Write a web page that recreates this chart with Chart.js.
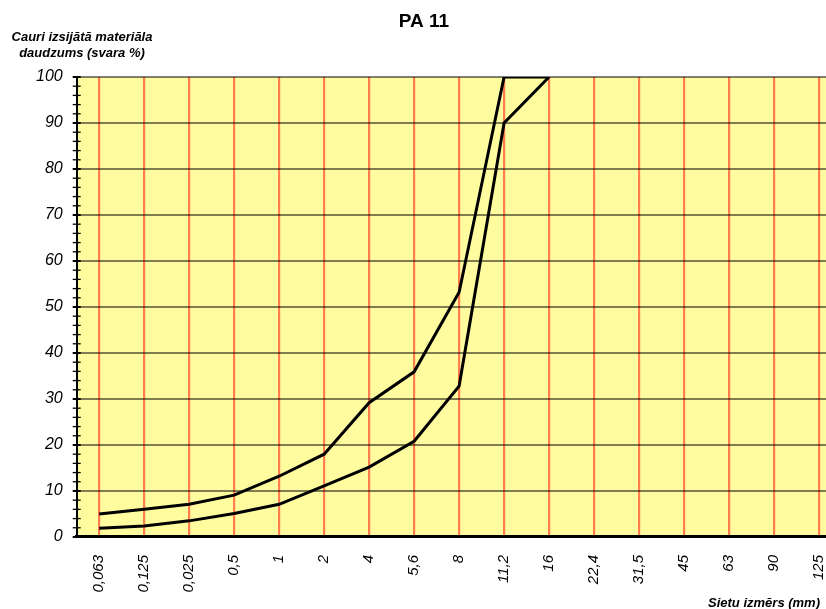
<!DOCTYPE html>
<html lang="lv">
<head>
  <meta charset="UTF-8">
  <title>PA 11</title>
  <style>
    html, body { margin: 0; padding: 0; background: #fff; overflow: hidden; }
    #wrap { width: 855px; height: 609px; }
  </style>
</head>
<body>
  <div id="wrap"><canvas id="myChart" width="855" height="609"></canvas></div>

  <script src="https://cdn.jsdelivr.net/npm/chart.js"></script>
  <script>
    // sietu izmēri (mm)
    const sieves = ["0,063", "0,125", "0,025", "0,5", "1", "2", "4", "5,6", "8", "11,2", "16", "22,4", "31,5", "45", "63", "90", "125"];
    // augšējā robeža (%)
    const upperLimit = [5, 6, 7.1, 9.1, 13.2, 18, 29.2, 35.9, 53.2, 100, 100];
    // apakšējā robeža (%)
    const lowerLimit = [1.9, 2.4, 3.5, 5.1, 7.1, 11.1, 15.2, 20.8, 32.8, 90, 100];

    const FONT = '"Liberation Sans", Arial, sans-serif';

    // fons, mazās atzīmes un uzraksti
    const decor = {
      id: 'decor',
      beforeDraw(chart) {
        const { ctx, chartArea: a } = chart;
        ctx.save();
        ctx.fillStyle = '#fffb9f';
        ctx.fillRect(a.left, a.top, a.right - a.left, a.bottom - a.top);
        ctx.restore();
      },
      afterDraw(chart) {
        const { ctx, chartArea: a } = chart;
        const y = chart.scales.y;
        ctx.save();
        ctx.strokeStyle = '#000';
        for (let v = 0; v <= 100; v += 2) {
          const py = y.getPixelForValue(v);
          ctx.lineWidth = v % 10 === 0 ? 2 : 1.3;
          ctx.beginPath();
          ctx.moveTo(a.left - 4, py);
          ctx.lineTo(a.left + 4, py);
          ctx.stroke();
        }
        ctx.fillStyle = '#000';
        ctx.textAlign = 'center';
        ctx.textBaseline = 'alphabetic';
        ctx.font = 'bold 19px ' + FONT;
        ctx.fillText('PA 11', 424, 27);
        ctx.font = 'italic bold 13px ' + FONT;
        ctx.fillText('Cauri izsijātā materiāla', 82, 41);
        ctx.fillText('daudzums (svara %)', 82, 57);
        ctx.textAlign = 'right';
        ctx.fillText('Sietu izmērs (mm)', 820, 607);
        ctx.restore();
      }
    };

    const ctx = document.getElementById('myChart');
    const chart = new Chart(ctx, {
      type: 'line',
      data: {
        labels: sieves,
        datasets: [
          { label: 'augšējā', data: upperLimit },
          { label: 'apakšējā', data: lowerLimit }
        ]
      },
      options: {
        responsive: false,
        animation: false,
        devicePixelRatio: 1,
        layout: { padding: { top: 77, left: 22, right: 0, bottom: -1.5 } },
        elements: {
          line: { borderColor: '#000', borderWidth: 3, tension: 0 },
          point: { radius: 0 }
        },
        plugins: {
          legend: { display: false },
          tooltip: { enabled: false },
          title: { display: false }
        },
        scales: {
          x: {
            offset: true,
            grid: { offset: false, color: '#ff7d4f', lineWidth: 2.2, drawTicks: false },
            border: { color: '#000', width: 3 },
            ticks: {
              color: '#000',
              font: { family: FONT, size: 15, style: 'italic' },
              minRotation: 90,
              maxRotation: 90,
              autoSkip: false,
              padding: 18
            }
          },
          y: {
            min: 0,
            max: 100,
            grid: { color: 'rgba(0,0,0,0.5)', lineWidth: 2, drawTicks: false },
            border: { color: '#000', width: 2 },
            ticks: {
              stepSize: 10,
              color: '#000',
              font: { family: FONT, size: 16, style: 'italic' },
              padding: 14
            }
          }
        }
      },
      plugins: [decor]
    });
  </script>
</body>
</html>
